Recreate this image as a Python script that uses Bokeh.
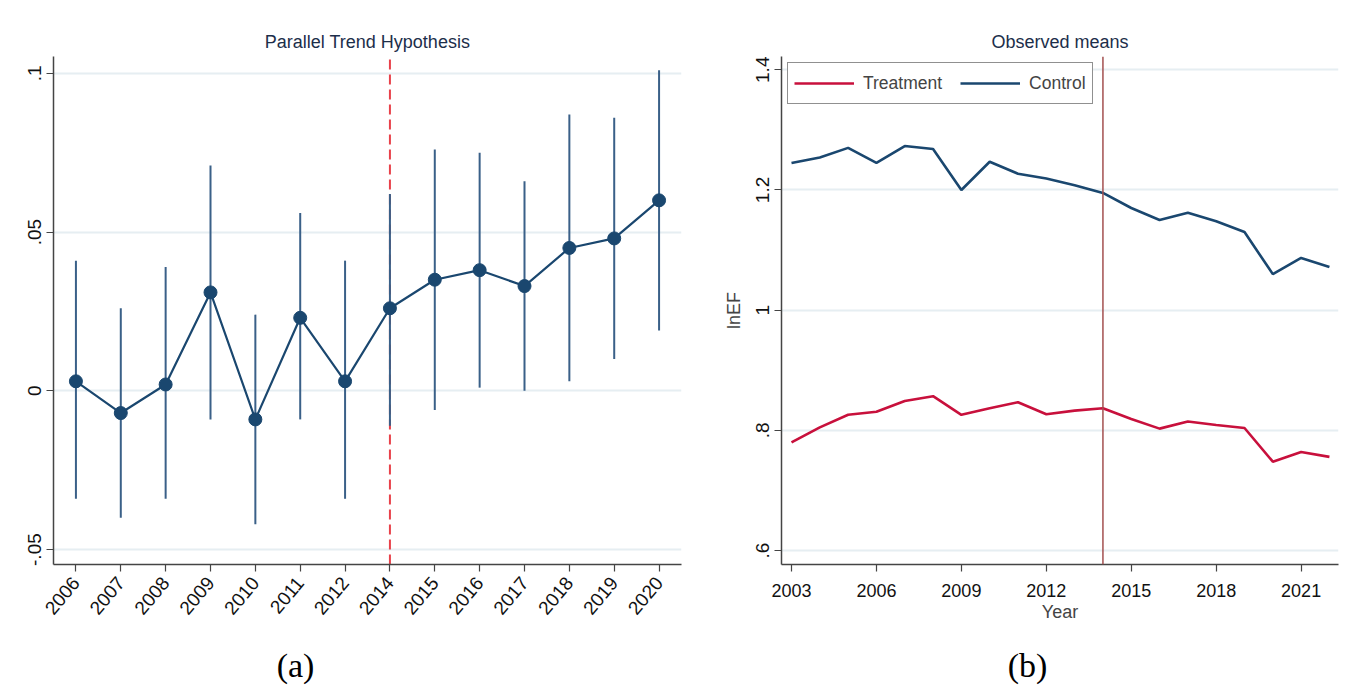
from bokeh.plotting import figure
from bokeh.models import (Range1d, FactorRange, FixedTicker, Span, Legend, LegendItem)
from bokeh.core.properties import value
from bokeh.layouts import row, column
from bokeh.embed import file_html
from bokeh.resources import INLINE

# ---------------- data: panel (a) ----------------
years_a = ["2006", "2007", "2008", "2009", "2010", "2011", "2012",
           "2014", "2015", "2016", "2017", "2018", "2019", "2020"]
coef = [0.003, -0.007, 0.002, 0.031, -0.009, 0.023, 0.003,
        0.026, 0.035, 0.038, 0.033, 0.045, 0.048, 0.060]
ci_low = [-0.034, -0.040, -0.034, -0.009, -0.042, -0.009, -0.034,
          -0.011, -0.006, 0.001, 0.000, 0.003, 0.010, 0.019]
ci_high = [0.041, 0.026, 0.039, 0.071, 0.024, 0.056, 0.041,
           0.062, 0.076, 0.075, 0.066, 0.087, 0.086, 0.101]
event_a = "2014"
yticks_a = [-0.05, 0, 0.05, 0.1]
ylabels_a = ["-.05", "0", ".05", ".1"]

# ---------------- data: panel (b) ----------------
years_b = list(range(2003, 2023))
treatment = [0.780, 0.805, 0.826, 0.831, 0.849, 0.857, 0.826, 0.837, 0.847, 0.827,
             0.833, 0.837, 0.819, 0.803, 0.815, 0.809, 0.804, 0.748, 0.764, 0.756]
control = [1.245, 1.254, 1.270, 1.245, 1.273, 1.268, 1.200, 1.247, 1.227, 1.219,
           1.208, 1.195, 1.170, 1.150, 1.162, 1.148, 1.130, 1.060, 1.087, 1.072]
policy_year = 2014
xticks_b = [2003, 2006, 2009, 2012, 2015, 2018, 2021]
yticks_b = [0.6, 0.8, 1.0, 1.2, 1.4]
ylabels_b = [".6", ".8", "1", "1.2", "1.4"]

# ---------------- sub-figure captions ----------------
captions = ["(a)", "(b)"]

NAVY = "#1a476f"
RED = "#c8103c"
GRID = "#e6eef2"
SANS = "Liberation Sans"
TITLE_COLOR = "#1c2e4a"

# layout (pixels)
W_A, W_B, H_MAIN, H_CAP = 690, 655, 628, 60
CAP_X = [295, 1027]          # caption centres across the page
CAP_Y = 23                   # caption centre height inside caption strip


def style(p):
    p.outline_line_color = None
    p.xgrid.visible = False
    p.ygrid.grid_line_color = GRID
    p.ygrid.grid_line_width = 2
    for ax in (p.xaxis[0], p.yaxis[0]):
        ax.axis_line_color = "#444444"
        ax.axis_line_width = 1.5
        ax.major_tick_line_color = "#444444"
        ax.major_tick_line_width = 1.2
        ax.major_tick_out = 7
        ax.major_tick_in = 0
        ax.minor_tick_line_color = None
        ax.major_label_text_color = "#111111"
    p.yaxis.major_label_orientation = "vertical"
    p.yaxis.major_label_text_font = SANS
    p.yaxis.major_label_text_font_size = "19px"
    p.title.align = "center"
    p.title.text_font = SANS
    p.title.text_font_size = "18px"
    p.title.text_font_style = "normal"
    p.title.text_color = TITLE_COLOR


# ---------------- panel (a) ----------------
ya0, ya1 = -0.0547, 0.1053
pa = figure(width=W_A, height=H_MAIN, x_range=FactorRange(*years_a),
            y_range=Range1d(ya0, ya1), output_backend="svg", toolbar_location=None,
            title="Parallel Trend Hypothesis",
            min_border_left=53, min_border_right=9, min_border_top=56,
            min_border_bottom=62)
style(pa)
pa.yaxis.ticker = FixedTicker(ticks=yticks_a)
pa.yaxis.major_label_overrides = {t: l for t, l in zip(yticks_a, ylabels_a)}
pa.xaxis.major_label_orientation = 0.87
pa.xaxis.major_label_text_font = SANS
pa.xaxis.major_label_text_font_size = "19px"
pa.xaxis.major_label_standoff = 8

pa.segment(x0=[event_a], y0=[ya0], x1=[event_a], y1=[ya1],
           line_color="#e8414a", line_width=2, line_dash="10 5")
pa.segment(x0=years_a, y0=ci_low, x1=years_a, y1=ci_high,
           line_color="#3a6088", line_width=2)
pa.line(years_a, coef, line_color=NAVY, line_width=2.2)
pa.scatter(years_a, coef, size=13, fill_color=NAVY, line_color=NAVY)

# ---------------- panel (b) ----------------
pb = figure(width=W_B, height=H_MAIN, x_range=Range1d(2002.647, 2022.32),
            y_range=Range1d(0.577, 1.422), output_backend="svg", toolbar_location=None,
            title="Observed means",
            min_border_left=91, min_border_right=7, min_border_top=56,
            min_border_bottom=64)
style(pb)
pb.xaxis.ticker = FixedTicker(ticks=xticks_b)
pb.yaxis.ticker = FixedTicker(ticks=yticks_b)
pb.yaxis.major_label_overrides = {t: l for t, l in zip(yticks_b, ylabels_b)}
pb.xaxis.major_label_text_font = SANS
pb.xaxis.major_label_text_font_size = "18px"
pb.xaxis.major_label_standoff = 12
pb.xaxis.axis_label = "Year"
pb.xaxis.axis_label_text_font = SANS
pb.xaxis.axis_label_text_font_size = "18px"
pb.xaxis.axis_label_text_font_style = "normal"
pb.xaxis.axis_label_standoff = 2
pb.yaxis.axis_label = "lnEF"
pb.yaxis.axis_label_text_font = SANS
pb.yaxis.axis_label_text_font_size = "18px"
pb.yaxis.axis_label_text_font_style = "normal"
pb.yaxis.axis_label_standoff = 10

pb.add_layout(Span(location=policy_year, dimension="height",
                   line_color="#a3504f", line_width=1.5))
r_t = pb.line(years_b, treatment, line_color=RED, line_width=2.6)
r_c = pb.line(years_b, control, line_color=NAVY, line_width=2.6)
leg = Legend(items=[LegendItem(label="Treatment", renderers=[r_t]),
                    LegendItem(label="Control", renderers=[r_c])],
             orientation="horizontal", location="top_left", margin=6,
             label_text_font=SANS, label_text_font_size="17.5px",
             glyph_width=60, glyph_height=28, label_standoff=9, spacing=18, padding=6,
             border_line_color="#222222", border_line_width=1.2,
             background_fill_color="white", background_fill_alpha=1)
pb.add_layout(leg, "center")

# ---------------- caption strip ----------------
pc = figure(width=W_A + W_B, height=H_CAP, x_range=Range1d(0, W_A + W_B),
            y_range=Range1d(0, H_CAP), output_backend="svg", toolbar_location=None,
            min_border=0, x_axis_type=None, y_axis_type=None)
pc.outline_line_color = None
pc.grid.visible = False
pc.text(x=CAP_X, y=[CAP_Y] * len(captions), text=captions,
        text_align="center", text_baseline="middle",
        text_font=value("Liberation Serif"), text_font_size="34px", text_color="#000000")

layout = column(row(pa, pb), pc)
open("out.html", "w").write(file_html(layout, INLINE))
